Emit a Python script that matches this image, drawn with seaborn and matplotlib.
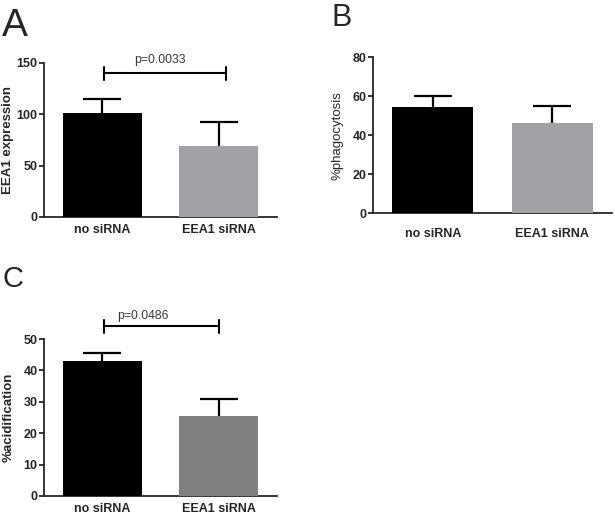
import matplotlib
matplotlib.use("Agg")
import matplotlib.pyplot as plt
import seaborn as sns
import pandas as pd

# values
groups = ["no siRNA", "EEA1 siRNA"]

expr_mean = [101.5, 69.0]
expr_sem = [13.5, 23.5]

phago_mean = [54.5, 46.3]
phago_sem = [5.7, 8.6]

acid_mean = [43.0, 25.5]
acid_sem = [2.5, 5.4]

# significance brackets: (left x, right x, height, text x, text y, label)
sig_a = (0.02, 1.06, 140, 0.50, 153, "p=0.0033")
sig_c = (0.02, 1.00, 54.1, 0.35, 57.3, "p=0.0486")

sns.set_style("white")
plt.rcParams["font.family"] = ["Liberation Sans", "DejaVu Sans"]
plt.rcParams["axes.linewidth"] = 1.3

fig = plt.figure(figsize=(6.15, 5.16), dpi=100)

ax_a = fig.add_axes([0.0715, 0.5795, 0.3785, 0.2985])
ax_b = fig.add_axes([0.6065, 0.587, 0.3885, 0.3025])
ax_c = fig.add_axes([0.0715, 0.0388, 0.3785, 0.3042])


def bar_panel(ax, means, sems, colors, ylabel, ylim, yticks, label_bold, xpad, lab_x):
    df = pd.DataFrame({"group": groups, "value": means})
    sns.barplot(data=df, x="group", y="value", hue="group", palette=colors,
                width=0.68, errorbar=None, legend=False, ax=ax, saturation=1)
    for p in ax.patches:
        p.set_zorder(3)
        p.set_linewidth(0)
    ax.errorbar(range(len(groups)), means, yerr=sems, fmt="none", ecolor="black",
                elinewidth=1.6, capsize=14, capthick=1.6, zorder=1)
    ax.set_xlim(-0.5, 1.5)
    ax.set_ylim(*ylim)
    ax.set_yticks(yticks)
    ax.set_xlabel("")
    ax.set_ylabel(ylabel, fontsize=9.5, fontweight="bold" if label_bold else "normal")
    ax.yaxis.set_label_coords(lab_x, 0.5)
    sns.despine(ax=ax)
    ax.tick_params(axis="y", direction="out", length=3.5, width=1.3, pad=1,
                   labelsize=9, left=True)
    ax.tick_params(axis="x", length=0, pad=xpad, labelsize=9)
    for t in ax.get_xticklabels() + ax.get_yticklabels():
        t.set_fontweight("bold")


def bracket(ax, sig, half):
    x0, x1, y, tx, ty, txt = sig
    ax.plot([x0, x1], [y, y], color="black", lw=1.5, clip_on=False, zorder=4)
    ax.plot([x0, x0], [y - half, y + half], color="black", lw=1.5, clip_on=False, zorder=4)
    ax.plot([x1, x1], [y - half, y + half], color="black", lw=1.5, clip_on=False, zorder=4)
    ax.text(tx, ty, txt, ha="center", va="center", fontsize=8.8, color="#3a3a3a",
            clip_on=False)


bar_panel(ax_a, expr_mean, expr_sem, ["#000000", "#a2a2a6"], "EEA1 expression",
          (0, 150), [0, 50, 100, 150], True, 5, -0.128)
bracket(ax_a, sig_a, 6.3)

bar_panel(ax_b, phago_mean, phago_sem, ["#000000", "#a2a2a6"], "%phagocytosis",
          (0, 80), [0, 20, 40, 60, 80], False, 11, -0.125)

bar_panel(ax_c, acid_mean, acid_sem, ["#000000", "#808080"], "%acidification",
          (0, 50), [0, 10, 20, 30, 40, 50], True, 5, -0.128)
bracket(ax_c, sig_c, 2.1)

fig.text(2 / 615, 1 - 36 / 516, "A", fontsize=28, va="baseline", ha="left")
fig.text(331 / 615, 1 - 26 / 516, "B", fontsize=22, va="baseline", ha="left")
fig.text(2 / 615, 1 - 287 / 516, "C", fontsize=21, va="baseline", ha="left")

fig.savefig("out.png", dpi=100)
